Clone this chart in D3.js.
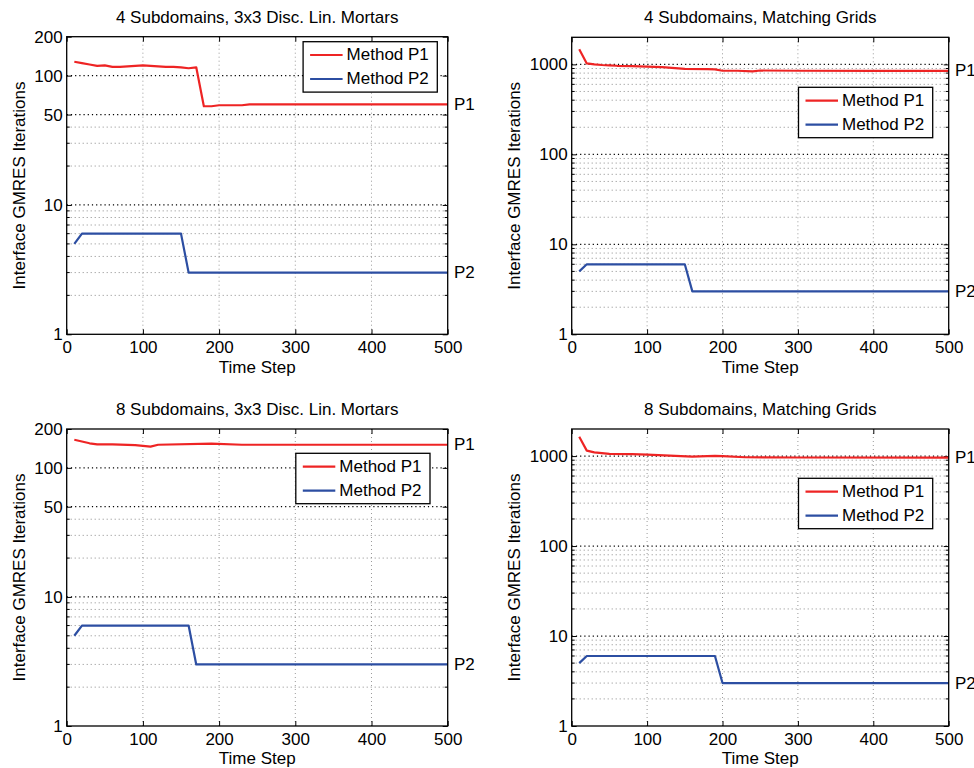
<!DOCTYPE html>
<html>
<head>
<meta charset="utf-8">
<script src="https://cdn.jsdelivr.net/npm/d3@7"></script>
<style>
  body { margin: 0; background: #fff; }
  svg { display: block; font-family: "Liberation Sans", Arial, Helvetica, sans-serif; }
</style>
</head>
<body>
<svg id="chart" width="974" height="768"></svg>
<script>
// Tick values
var xTicks = [0, 100, 200, 300, 400, 500];
var yTicksMortar = [1, 10, 50, 100, 200];
var yTicksMatching = [1, 10, 100, 1000];
var yMinorMortar = [2, 3, 4, 5, 6, 7, 8, 9, 20, 30, 40];
var yMinorMatching = [2, 3, 4, 5, 6, 7, 8, 9, 20, 30, 40, 50, 60, 70, 80, 90,
  200, 300, 400, 500, 600, 700, 800, 900];

// 4 subdomains, 3x3 disc. lin. mortars
var stepsP1Mortar4 = [10, 20, 30, 40, 50, 60, 70, 80, 90, 100, 110, 120, 130, 140, 150, 160, 170, 180, 190, 200, 210, 220, 230, 240, 500];
var itersP1Mortar4 = [128, 125, 122, 119, 120, 117, 117, 118, 119, 120, 119, 118, 117, 117, 116, 114, 116, 58, 58, 59, 59, 59, 59, 60, 60];
var stepsP2Mortar4 = [10, 20, 150, 160, 500];
var itersP2Mortar4 = [5, 6, 6, 3, 3];

// 4 subdomains, matching grids
var stepsP1Match4 = [10, 20, 30, 40, 50, 60, 80, 100, 120, 150, 180, 190, 200, 220, 240, 250, 300, 400, 500];
var itersP1Match4 = [1470, 1025, 1000, 985, 975, 965, 955, 945, 930, 890, 885, 880, 850, 850, 835, 855, 850, 845, 845];
var stepsP2Match4 = [10, 20, 150, 160, 500];
var itersP2Match4 = [5, 6, 6, 3, 3];

// 8 subdomains, 3x3 disc. lin. mortars
var stepsP1Mortar8 = [10, 20, 30, 40, 60, 90, 100, 110, 120, 190, 230, 500];
var itersP1Mortar8 = [165, 160, 155, 152, 152, 150, 148, 146, 151, 154, 151, 151];
var stepsP2Mortar8 = [10, 20, 160, 170, 500];
var itersP2Mortar8 = [5, 6, 6, 3, 3];

// 8 subdomains, matching grids
var stepsP1Match8 = [10, 20, 30, 50, 80, 100, 130, 160, 190, 200, 230, 300, 500];
var itersP1Match8 = [1640, 1150, 1100, 1060, 1050, 1040, 1010, 985, 1005, 1000, 970, 965, 960];
var stepsP2Match8 = [10, 20, 190, 200, 500];
var itersP2Match8 = [5, 6, 6, 3, 3];

var RED = "#ee2424";
var BLUE = "#2c4ea2";

var panels = [
  {
    title: "4 Subdomains, 3x3 Disc. Lin. Mortars",
    box: { left: 66.7, top: 36.7, right: 447.7, bottom: 334.3 },
    yMax: 200, yTicks: yTicksMortar, yMinor: yMinorMortar,
    p1: [stepsP1Mortar4, itersP1Mortar4], p2: [stepsP2Mortar4, itersP2Mortar4],
    legend: { right: 10.4, top: 5 }, yLabelX: 19.3
  },
  {
    title: "4 Subdomains, Matching Grids",
    box: { left: 571.7, top: 37.3, right: 948.7, bottom: 334.3 },
    yMax: 2000, yTicks: yTicksMatching, yMinor: yMinorMatching,
    p1: [stepsP1Match4, itersP1Match4], p2: [stepsP2Match4, itersP2Match4],
    legend: { right: 16, top: 50 }, yLabelX: 514
  },
  {
    title: "8 Subdomains, 3x3 Disc. Lin. Mortars",
    box: { left: 66.7, top: 429, right: 447.7, bottom: 726 },
    yMax: 200, yTicks: yTicksMortar, yMinor: yMinorMortar,
    p1: [stepsP1Mortar8, itersP1Mortar8], p2: [stepsP2Mortar8, itersP2Mortar8],
    legend: { right: 17.7, top: 24.3 }, yLabelX: 19.3
  },
  {
    title: "8 Subdomains, Matching Grids",
    box: { left: 571.7, top: 429, right: 948.7, bottom: 726 },
    yMax: 2000, yTicks: yTicksMatching, yMinor: yMinorMatching,
    p1: [stepsP1Match8, itersP1Match8], p2: [stepsP2Match8, itersP2Match8],
    legend: { right: 16, top: 49.3 }, yLabelX: 514
  }
];

var svg = d3.select("#chart");
var FONT = 17;

panels.forEach(function(p) {
  var b = p.box;
  var width = b.right - b.left;
  var height = b.bottom - b.top;

  var x = d3.scaleLinear().domain([0, 500]).range([0, width]);
  var y = d3.scaleLog().domain([1, p.yMax]).range([height, 0]);

  var g = svg.append("g")
    .attr("transform", "translate(" + b.left + "," + b.top + ")");

  // Title
  g.append("text")
    .attr("x", width / 2)
    .attr("y", -14)
    .attr("text-anchor", "middle")
    .attr("font-size", FONT)
    .text(p.title);

  // Grid: vertical
  g.append("g").selectAll("line")
    .data(xTicks.slice(1, -1))
    .enter().append("line")
    .attr("x1", function(d) { return x(d); })
    .attr("x2", function(d) { return x(d); })
    .attr("y1", 0).attr("y2", height)
    .attr("stroke", "#9a9a9a")
    .attr("stroke-dasharray", "1,3");

  // Grid: horizontal minor
  g.append("g").selectAll("line")
    .data(p.yMinor)
    .enter().append("line")
    .attr("x1", 0).attr("x2", width)
    .attr("y1", function(d) { return y(d); })
    .attr("y2", function(d) { return y(d); })
    .attr("stroke", "#8a8a8a")
    .attr("stroke-dasharray", "1,3");

  // Grid: horizontal major
  g.append("g").selectAll("line")
    .data(p.yTicks.slice(1).filter(function(d) { return d < p.yMax; }))
    .enter().append("line")
    .attr("x1", 0).attr("x2", width)
    .attr("y1", function(d) { return y(d); })
    .attr("y2", function(d) { return y(d); })
    .attr("stroke", "#000")
    .attr("stroke-width", 1.2)
    .attr("stroke-dasharray", "1.2,3");

  // Minor ticks, inward on both sides
  var minor = g.append("g").attr("stroke", "#000");
  p.yMinor.forEach(function(d) {
    minor.append("line").attr("x1", 0).attr("x2", 3).attr("y1", y(d)).attr("y2", y(d));
    minor.append("line").attr("x1", width).attr("x2", width - 3).attr("y1", y(d)).attr("y2", y(d));
  });

  // Axes (ticks inward)
  var xAxis = g.append("g")
    .attr("transform", "translate(0," + height + ")")
    .call(d3.axisBottom(x).tickValues(xTicks).tickSize(-5).tickSizeOuter(0).tickPadding(7));
  g.append("g")
    .call(d3.axisTop(x).tickValues(xTicks).tickSize(-5).tickSizeOuter(0).tickFormat(""));
  var yAxis = g.append("g")
    .call(d3.axisLeft(y).tickValues(p.yTicks).tickSize(-5).tickSizeOuter(0).tickPadding(4)
      .tickFormat(d3.format("d")));
  g.append("g")
    .attr("transform", "translate(" + width + ",0)")
    .call(d3.axisRight(y).tickValues(p.yTicks).tickSize(-5).tickSizeOuter(0).tickFormat(""));

  g.selectAll(".domain").remove();
  g.selectAll(".tick text").attr("font-size", FONT).attr("fill", "#000")
    .attr("font-family", "\"Liberation Sans\", Arial, sans-serif");

  // Axis labels
  g.append("text")
    .attr("x", width / 2)
    .attr("y", height + 32.4 + 6)
    .attr("text-anchor", "middle")
    .attr("font-size", FONT)
    .text("Time Step");

  g.append("text")
    .attr("transform", "translate(" + (p.yLabelX - b.left) + "," + (height / 2) + ") rotate(-90)")
    .attr("text-anchor", "middle")
    .attr("dominant-baseline", "central")
    .attr("font-size", FONT)
    .text("Interface GMRES Iterations");

  // Lines
  var line = d3.line()
    .x(function(d) { return x(d[0]); })
    .y(function(d) { return y(d[1]); });

  var series = [
    { name: "Method P1", tag: "P1", color: RED, data: d3.zip(p.p1[0], p.p1[1]) },
    { name: "Method P2", tag: "P2", color: BLUE, data: d3.zip(p.p2[0], p.p2[1]) }
  ];

  series.forEach(function(s) {
    g.append("path")
      .datum(s.data)
      .attr("fill", "none")
      .attr("stroke", s.color)
      .attr("stroke-width", 2.2)
      .attr("stroke-linejoin", "round")
      .attr("d", line);

    // End label
    var last = s.data[s.data.length - 1];
    g.append("text")
      .attr("x", width + 6.3)
      .attr("y", y(last[1]))
      .attr("dominant-baseline", "central")
      .attr("font-size", FONT)
      .text(s.tag);
  });

  // Box
  g.append("rect")
    .attr("width", width).attr("height", height)
    .attr("fill", "none")
    .attr("stroke", "#000")
    .attr("stroke-width", 1.3);

  // Legend
  var lw = 134.2, lh = 50.4;
  var legend = g.append("g")
    .attr("transform", "translate(" + (width - p.legend.right - lw) + "," + p.legend.top + ")");
  legend.append("rect")
    .attr("width", lw).attr("height", lh)
    .attr("fill", "#fff")
    .attr("stroke", "#000")
    .attr("stroke-width", 1.3);
  series.forEach(function(s, i) {
    var ry = 13.3 + i * 24;
    legend.append("line")
      .attr("x1", 7).attr("x2", 39.5)
      .attr("y1", ry).attr("y2", ry)
      .attr("stroke", s.color)
      .attr("stroke-width", 2.2);
    legend.append("text")
      .attr("x", 43.5)
      .attr("y", ry)
      .attr("dominant-baseline", "central")
      .attr("font-size", FONT)
      .text(s.name);
  });
});
</script>
</body>
</html>
